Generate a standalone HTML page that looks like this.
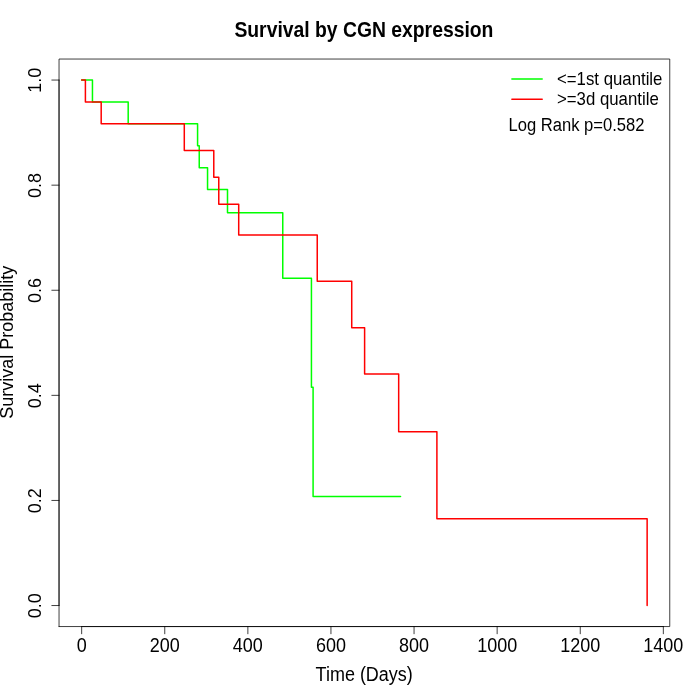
<!DOCTYPE html>
<html><head><meta charset="utf-8"><title>Survival by CGN expression</title>
<style>html,body{margin:0;padding:0;background:#fff;width:700px;height:700px;overflow:hidden;font-family:"Liberation Sans",sans-serif}</style></head>
<body>
<svg width="700" height="700" viewBox="0 0 700 700" style="display:block;position:absolute;left:0;top:0;will-change:transform">
<rect width="700" height="700" fill="#fff"/>
<g fill="none" stroke-linejoin="round" stroke-linecap="round" stroke-width="1.5">
<path d="M81.66 80.06 L92.46 80.06 L92.46 101.95 L128.19 101.95 L128.19 123.85 L197.58 123.85 L197.58 145.75 L199.24 145.75 L199.24 167.64 L207.55 167.64 L207.55 189.54 L227.50 189.54 L227.50 212.65 L282.76 212.65 L282.76 278.13 L311.43 278.13 L311.43 387.27 L313.09 387.27 L313.09 496.40 L400.55 496.40" stroke="#00ff00"/>
<path d="M81.66 80.06 L85.40 80.06 L85.40 101.95 L101.19 101.95 L101.19 123.85 L184.29 123.85 L184.29 150.61 L213.78 150.61 L213.78 177.37 L218.77 177.37 L218.77 204.13 L238.71 204.13 L238.71 235.01 L317.24 235.01 L317.24 281.33 L351.73 281.33 L351.73 327.64 L364.61 327.64 L364.61 373.96 L398.68 373.96 L398.68 431.85 L436.90 431.85 L436.90 518.70 L647.14 518.70 L647.14 605.54" stroke="#ff0000"/>
<path d="M511.9 79.1 H542.2" stroke="#00ff00"/>
<path d="M511.9 99.3 H542.2" stroke="#ff0000"/>
</g>
<g fill="none" stroke="#000" stroke-width="0.75" stroke-linecap="round" stroke-linejoin="round">
<path d="M59.04 626.56 L669.76 626.56 L669.76 59.04 L59.04 59.04 L59.04 626.56"/>
<path d="M81.66 626.56 H663.34"/>
<path d="M81.66 626.56 v7.2"/>
<path d="M164.76 626.56 v7.2"/>
<path d="M247.86 626.56 v7.2"/>
<path d="M330.95 626.56 v7.2"/>
<path d="M414.05 626.56 v7.2"/>
<path d="M497.15 626.56 v7.2"/>
<path d="M580.25 626.56 v7.2"/>
<path d="M663.34 626.56 v7.2"/>
<path d="M59.04 605.54 V80.06"/>
<path d="M59.04 605.54 h-7.2"/>
<path d="M59.04 500.44 h-7.2"/>
<path d="M59.04 395.35 h-7.2"/>
<path d="M59.04 290.25 h-7.2"/>
<path d="M59.04 185.16 h-7.2"/>
<path d="M59.04 80.06 h-7.2"/>
</g>
<g font-family="'Liberation Sans', sans-serif" fill="#000">
<text transform="translate(363.90 36.90) scale(1.0080 1.1200)" font-size="19.2" text-anchor="middle" font-weight="bold">Survival by CGN expression</text>
<text transform="translate(81.66 652.20) scale(1.0000 1.1200)" font-size="18" text-anchor="middle">0</text>
<text transform="translate(164.76 652.20) scale(1.0000 1.1200)" font-size="18" text-anchor="middle">200</text>
<text transform="translate(247.86 652.20) scale(1.0000 1.1200)" font-size="18" text-anchor="middle">400</text>
<text transform="translate(330.95 652.20) scale(1.0000 1.1200)" font-size="18" text-anchor="middle">600</text>
<text transform="translate(414.05 652.20) scale(1.0000 1.1200)" font-size="18" text-anchor="middle">800</text>
<text transform="translate(497.15 652.20) scale(1.0000 1.1200)" font-size="18" text-anchor="middle">1000</text>
<text transform="translate(580.25 652.20) scale(1.0000 1.1200)" font-size="18" text-anchor="middle">1200</text>
<text transform="translate(663.34 652.20) scale(1.0000 1.1200)" font-size="18" text-anchor="middle">1400</text>
<text transform="translate(41.00 605.84) rotate(-90) scale(1.0000 1.0500)" font-size="18" text-anchor="middle">0.0</text>
<text transform="translate(41.00 500.74) rotate(-90) scale(1.0000 1.0500)" font-size="18" text-anchor="middle">0.2</text>
<text transform="translate(41.00 395.65) rotate(-90) scale(1.0000 1.0500)" font-size="18" text-anchor="middle">0.4</text>
<text transform="translate(41.00 290.55) rotate(-90) scale(1.0000 1.0500)" font-size="18" text-anchor="middle">0.6</text>
<text transform="translate(41.00 185.46) rotate(-90) scale(1.0000 1.0500)" font-size="18" text-anchor="middle">0.8</text>
<text transform="translate(41.00 80.36) rotate(-90) scale(1.0000 1.0500)" font-size="18" text-anchor="middle">1.0</text>
<text transform="translate(364.20 681.30) scale(1.0000 1.1000)" font-size="18" text-anchor="middle">Time (Days)</text>
<text transform="translate(12.70 342.30) rotate(-90) scale(1.0000 1.0500)" font-size="18" text-anchor="middle">Survival Probability</text>
<text transform="translate(557.00 84.80) scale(1.0000 1.1000)" font-size="16.8" text-anchor="start">&lt;=1st quantile</text>
<text transform="translate(557.00 104.70) scale(1.0000 1.1000)" font-size="16.8" text-anchor="start">&gt;=3d quantile</text>
<text transform="translate(508.50 131.00) scale(0.9880 1.0600)" font-size="16.8" text-anchor="start">Log Rank p=0.582</text>
</g></svg>
</body></html>
